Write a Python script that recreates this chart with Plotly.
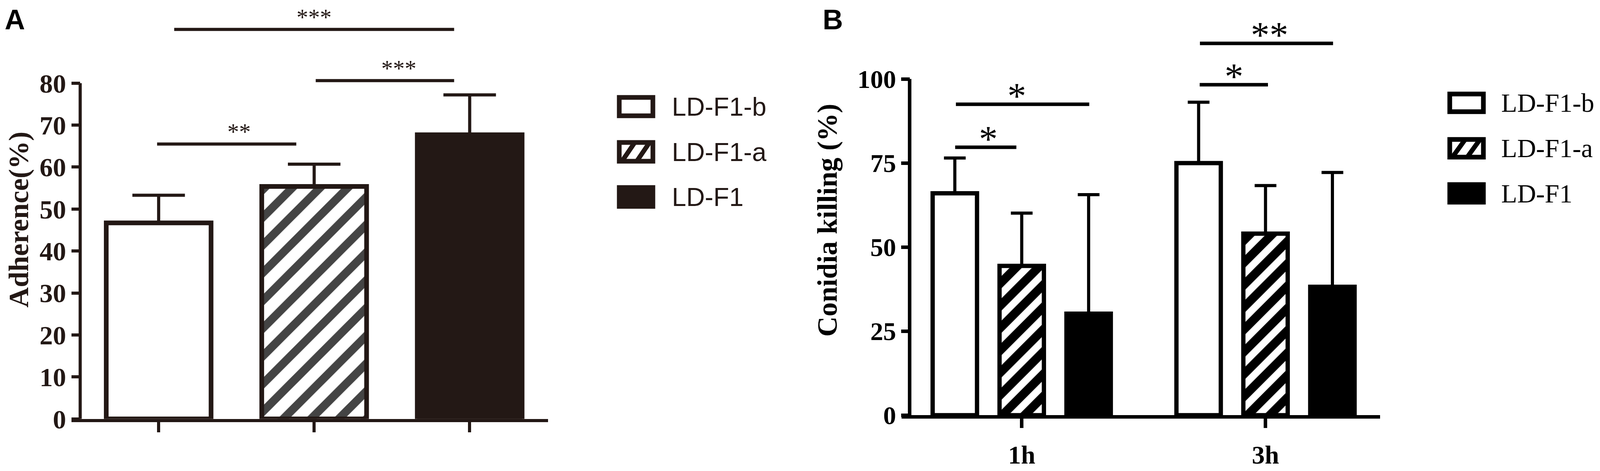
import plotly.graph_objects as go

# layout is measured in the 4550x1205 reference frame; the page snapshot only
# keeps ~4096 px of width, so the figure is drawn narrower with the same fractions
REF_W, REF_H = 4550, 1205
FIG_W, FIG_H = 4080, 1197
SX = FIG_W / REF_W

# ---- data, panel A (adherence) ----
strains = ['LD-F1-b', 'LD-F1-a', 'LD-F1']
adherence_mean = [46.7, 55.4, 67.7]
adherence_sd = [6.6, 5.3, 9.5]
yticks_a = [0, 10, 20, 30, 40, 50, 60, 70, 80]
# significance brackets A: start, end (category units), height, label, label x
sig_a_x0 = [-0.01, 1.01, 0.10]
sig_a_x1 = [0.885, 1.90, 1.90]
sig_a_y = [65.5, 80.6, 92.8]
sig_a_text = ['**', '***', '***']
sig_a_tx = [0.516, 1.545, 1.0]

# ---- data, panel B (conidia killing) ----
times = ['1h', '3h']
killing_b = [66.0, 75.0]
killing_a = [44.4, 54.0]
killing_f1 = [30.2, 38.2]
sd_b = [10.5, 18.1]
sd_a = [15.7, 14.3]
sd_f1 = [35.4, 34.0]
yticks_b = [0, 25, 50, 75, 100]
sig_b_x0 = [-0.273, -0.270, 0.730, 0.731]
sig_b_x1 = [-0.022, 0.277, 1.010, 1.277]
sig_b_y = [79.7, 92.5, 98.3, 110.6]
sig_b_text = ['*', '*', '*', '**']
sig_b_tx = [-0.137, -0.021, 0.870, 1.017]

INK_A = '#231815'
INK_B = '#000000'
SERIF = 'Liberation Serif'
SANS = 'Liberation Sans'


def fx(px):
    return px / REF_W


def fy(py):
    return 1 - py / REF_H


def hx(px):
    # horizontal pixel size in figure pixels
    return px * SX


# pixel layout of the two panels (reference frame)
A_X0, A_X1, A_YAX, A_CAT0, A_STEP = 195, 1556, 220, 444, 444
A_YB, A_PPU, A_TOP = 1107, 11.175, 95
B_X0, B_X1, B_YAX, B_CAT0, B_STEP = 2565, 3931, 2588, 2908, 696
B_YB, B_PPU, B_TOP = 1097, 8.95, 116

a_range = [(A_X0 - A_CAT0) / A_STEP, (A_X1 - A_CAT0) / A_STEP]
b_range = [(B_X0 - B_CAT0) / B_STEP, (B_X1 - B_CAT0) / B_STEP]

fig = go.Figure()

# panel A bars
fig.add_trace(go.Bar(
    x=[0, 1, 2], y=adherence_mean, width=0.674, name='Adherence',
    marker=dict(color=['white', 'white', INK_A], line=dict(color=INK_A, width=12),
                pattern=dict(shape=['', '/', ''], fgcolor=INK_A, bgcolor='white',
                             fgopacity=1, size=hx(56), solidity=0.42)),
    error_y=dict(type='data', array=adherence_sd, arrayminus=[0, 0, 0], symmetric=False,
                 color=INK_A, thickness=8, width=hx(75)),
    xaxis='x', yaxis='y', showlegend=False))

# panel B bars
bw, gs = 0.182, 0.2744
b_series = [
    (strains[0], killing_b, sd_b, 'white', ''),
    (strains[1], killing_a, sd_a, 'white', '/'),
    (strains[2], killing_f1, sd_f1, INK_B, ''),
]
for k, (nm, vals, sd, col, pat) in enumerate(b_series):
    fig.add_trace(go.Bar(
        x=[0, 1], y=vals, width=bw, offset=(k - 1) * gs - bw / 2, name=nm,
        marker=dict(color=col, line=dict(color=INK_B, width=11),
                    pattern=dict(shape=pat, fgcolor=INK_B, bgcolor='white', fgopacity=1,
                                 size=hx(45), solidity=0.55)),
        error_y=dict(type='data', array=sd, arrayminus=[0, 0], symmetric=False,
                     color=INK_B, thickness=8, width=hx(31)),
        xaxis='x2', yaxis='y2', showlegend=False))


# significance lines
def bracket_xy(x0s, x1s, ys):
    xs, yy = [], []
    for a, b, h in zip(x0s, x1s, ys):
        xs += [a, b, None]
        yy += [h, h, None]
    return xs, yy


xs, yy = bracket_xy(sig_a_x0, sig_a_x1, sig_a_y)
fig.add_trace(go.Scatter(x=xs, y=yy, mode='lines', line=dict(color=INK_A, width=8),
                         xaxis='x', yaxis='y', showlegend=False, hoverinfo='skip'))
xs, yy = bracket_xy(sig_b_x0, sig_b_x1, sig_b_y)
fig.add_trace(go.Scatter(x=xs, y=yy, mode='lines', line=dict(color=INK_B, width=9),
                         xaxis='x2', yaxis='y2', showlegend=False, hoverinfo='skip'))

annotations = []
for t, tx, h in zip(sig_a_text, sig_a_tx, sig_a_y):
    annotations.append(dict(text=t, x=tx, y=h, xref='x', yref='y', showarrow=False,
                            yanchor='bottom', yshift=-4,
                            font=dict(family=SERIF, size=60, color=INK_A)))
for t, tx, h in zip(sig_b_text, sig_b_tx, sig_b_y):
    annotations.append(dict(text=t, x=tx, y=h, xref='x2', yref='y2', showarrow=False,
                            yanchor='bottom', yshift=-34,
                            font=dict(family=SERIF, size=96, color=INK_B)))

# panel letters
annotations.append(dict(text='<b>A</b>', x=fx(2), y=1, xref='paper', yref='paper',
                        xanchor='left', yanchor='top', showarrow=False,
                        font=dict(family=SANS, size=72, color='black')))
annotations.append(dict(text='<b>B</b>', x=fx(2338), y=1, xref='paper', yref='paper',
                        xanchor='left', yanchor='top', showarrow=False,
                        font=dict(family=SANS, size=72, color='black')))

shapes = [
    # y axis lines only up to the top tick
    dict(type='line', xref='x', yref='y', x0=(A_YAX - A_CAT0) / A_STEP, x1=(A_YAX - A_CAT0) / A_STEP,
         y0=0, y1=yticks_a[-1], line=dict(color=INK_A, width=8)),
    dict(type='line', xref='x2', yref='y2', x0=(B_YAX - B_CAT0) / B_STEP, x1=(B_YAX - B_CAT0) / B_STEP,
         y0=0, y1=yticks_b[-1], line=dict(color=INK_B, width=9)),
]


# hand-made legends (swatches as shapes, labels as text)
def legend(x0, x1, rows, lw, ink, font, size, tx):
    for i, (top, bot) in enumerate(rows):
        fill = ink if i == 2 else 'white'
        shapes.append(dict(type='rect', xref='paper', yref='paper', x0=fx(x0), x1=fx(x1),
                           y0=fy(bot), y1=fy(top), line=dict(color=ink, width=lw), fillcolor=fill))
        if i == 1:
            w = x1 - x0
            for s in (0.08, 0.52):
                shapes.append(dict(type='line', xref='paper', yref='paper',
                                   x0=fx(x0 + w * s), y0=fy(bot), x1=fx(x0 + w * (s + 0.38)), y1=fy(top),
                                   line=dict(color=ink, width=lw)))
        annotations.append(dict(text=strains[i], x=fx(tx), y=fy((top + bot) / 2), xref='paper',
                                yref='paper', xanchor='left', yanchor='middle', showarrow=False,
                                font=dict(family=font, size=size, color=ink)))


legend(1759, 1855, [(251, 300), (371, 421), (491, 541)], 12, INK_A, SANS, 66, 1907)
legend(4130, 4226, [(242, 289), (363, 410), (483, 530)], 12, INK_B, SERIF, 67, 4274)

tick_a = dict(family=SERIF, size=68, color=INK_A, weight='bold')
tick_b = dict(family=SERIF, size=66, color=INK_B, weight='bold')

fig.update_layout(
    width=FIG_W, height=FIG_H, margin=dict(l=0, r=0, t=0, b=0),
    paper_bgcolor='white', plot_bgcolor='white', barmode='overlay',
    xaxis=dict(domain=[fx(A_X0), fx(A_X1)], range=a_range, anchor='y', showline=True,
               linecolor=INK_A, linewidth=8, ticks='outside', ticklen=26, tickwidth=8,
               tickcolor=INK_A, tickvals=[0, 1, 2], showticklabels=False,
               showgrid=False, zeroline=False),
    yaxis=dict(domain=[fy(A_YB), fy(A_YB - A_TOP * A_PPU)], range=[0, A_TOP], anchor='free',
               position=fx(A_YAX), showline=False, ticks='outside', ticklen=hx(25), tickwidth=8,
               tickcolor=INK_A, tickvals=yticks_a, tickfont=tick_a, showgrid=False, zeroline=False,
               title=dict(text='Adherence(%)', standoff=hx(26),
                          font=dict(family=SERIF, size=72, color=INK_A, weight='bold'))),
    xaxis2=dict(domain=[fx(B_X0), fx(B_X1)], range=b_range, anchor='y2', showline=True,
                linecolor=INK_B, linewidth=9, ticks='outside', ticklen=24, tickwidth=9,
                tickcolor=INK_B, tickvals=[0, 1], ticktext=times,
                tickfont=dict(family=SERIF, size=66, color=INK_B, weight='bold'),
                ticklabelstandoff=12, showgrid=False, zeroline=False),
    yaxis2=dict(domain=[fy(B_YB), fy(B_YB - B_TOP * B_PPU)], range=[0, B_TOP], anchor='free',
                position=fx(B_YAX), showline=False, ticks='outside', ticklen=hx(24), tickwidth=9,
                tickcolor=INK_B, tickvals=yticks_b, tickfont=tick_b, showgrid=False, zeroline=False,
                title=dict(text='Conidia killing (%)', standoff=hx(30),
                           font=dict(family=SERIF, size=72, color=INK_B, weight='bold'))),
    shapes=shapes, annotations=annotations,
)

fig.write_html('out.html')
